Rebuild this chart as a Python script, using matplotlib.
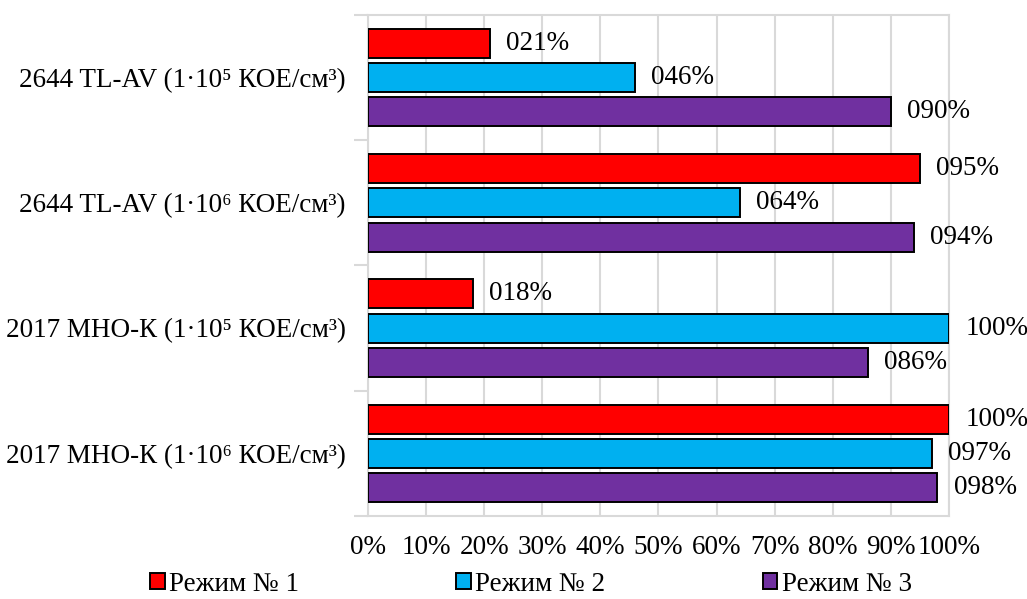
import matplotlib.pyplot as plt
import numpy as np

categories = [
    "2644 TL-AV (1·10⁵ КОЕ/см³)",
    "2644 TL-AV (1·10⁶ КОЕ/см³)",
    "2017 МНО-К (1·10⁵ КОЕ/см³)",
    "2017 МНО-К (1·10⁶ КОЕ/см³)",
]
series = ["Режим № 1", "Режим № 2", "Режим № 3"]
mode1 = [21, 95, 18, 100]
mode2 = [46, 64, 100, 97]
mode3 = [90, 94, 86, 98]
colors = ["#ff0000", "#00b0f0", "#7030a0"]

FS = 19.5
plt.rcParams["font.family"] = ["Liberation Serif", "DejaVu Serif"]
plt.rcParams["font.size"] = FS

GRID = "#d9d9d9"

fig = plt.figure(figsize=(10.27, 5.99), dpi=100)
ax = fig.add_axes([0.3583, 0.1386, 0.5657, 0.8364])

y = np.arange(len(categories))
step = 0.273
height = 0.232
for i, (vals, color, name) in enumerate(zip([mode1, mode2, mode3], colors, series)):
    pos = y + (i - 1) * step
    ax.barh(pos, vals, height=height, color=color, edgecolor="black", linewidth=1.4,
            label=name, zorder=3)
    for p, v in zip(pos, vals):
        ax.text(v + 2.8, p, f"{v:03d}%", va="center", ha="left", fontsize=FS)

ax.set_ylim(len(categories) - 0.5, -0.5)
ax.set_xlim(0, 100)
ax.set_xticks(np.arange(0, 101, 10))
ax.set_xticklabels([f"{t}%" for t in range(0, 101, 10)])
ax.set_yticks(y)
ax.set_yticklabels(categories)
ax.set_yticks(np.arange(-0.5, len(categories), 1), minor=True)
ax.tick_params(axis="y", which="major", length=0, pad=16)
ax.tick_params(axis="y", which="minor", length=10, width=1.5, color=GRID)
ax.tick_params(axis="x", length=0, pad=14)
ax.grid(axis="x", color=GRID, linewidth=1.5, zorder=0)
for side in ["left", "bottom", "top", "right"]:
    ax.spines[side].set_color(GRID)
    ax.spines[side].set_linewidth(1.5)

fig.legend(loc="center", bbox_to_anchor=(0.517, 0.025), ncol=3, frameon=False,
           borderaxespad=0, borderpad=0,
           handlelength=0.55, handleheight=0.55, handletextpad=0.15, columnspacing=5.8,
           fontsize=FS)

fig.savefig("out.png", dpi=100)
